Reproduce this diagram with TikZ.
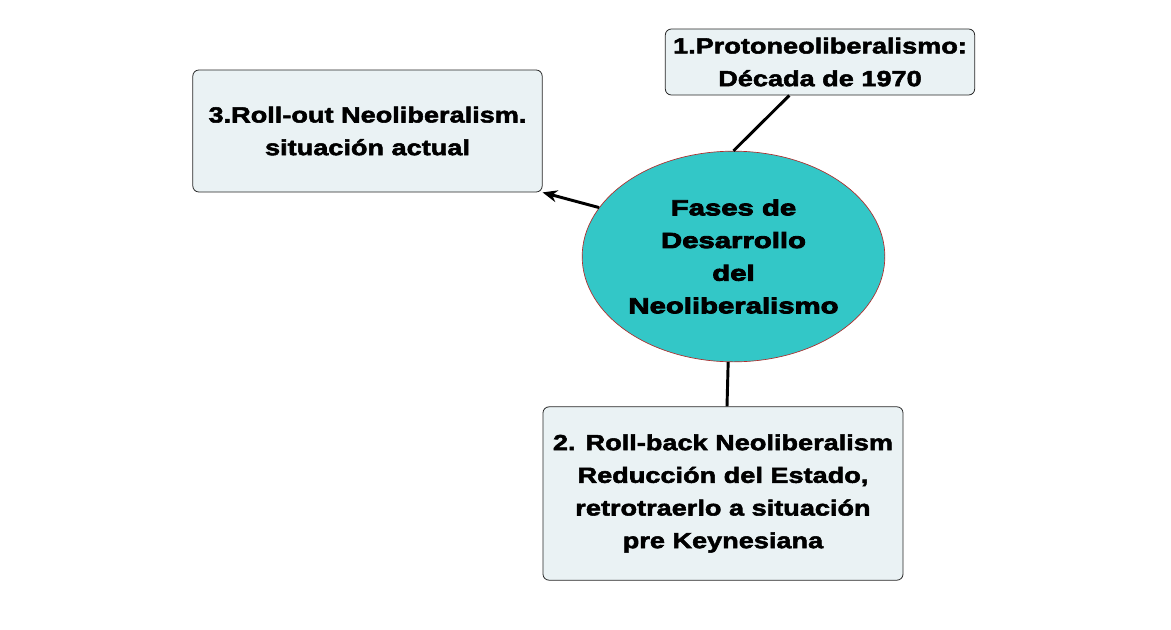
\documentclass[tikz,border=0pt]{standalone}
\usepackage{fontspec}
\setmainfont{Liberation Sans}
\newfontfamily\fasefont[FakeStretch=1.24,FakeBold=2.4]{Liberation Sans}
\newfontfamily\temafont[FakeStretch=1.34,FakeBold=4]{Liberation Sans}
\usetikzlibrary{shapes.geometric,arrows.meta}
\definecolor{boxfill}{RGB}{234,242,244}
\definecolor{ellfill}{RGB}{51,199,199}
\definecolor{ellline}{RGB}{175,45,45}

\begin{document}
\begin{tikzpicture}[x=0.75pt, y=-0.75pt,
    fase/.style={draw=black!85, fill=boxfill, line width=.6pt, rounded corners=4.5pt,
      align=center, inner sep=0pt, font=\fasefont\bfseries\fontsize{16.4}{24.5}\selectfont},
    tema/.style={ellipse, draw=ellline, fill=ellfill, line width=.5pt, align=center,
      inner sep=0pt, minimum width=227pt, minimum height=158pt,
      font=\temafont\bfseries\fontsize{16.4}{24.5}\selectfont},
    enlace/.style={line width=2.2pt}]
  \useasboundingbox (0,0) rectangle (1171,629);
  \node [tema] (tema) at (733.5,256.5) {Fases de\\Desarrollo\\del\\Neoliberalismo};
  \node [fase, minimum width=232pt, minimum height=49.5pt] (fase1) at (820,62) {1.Protoneoliberalismo:\\Década de 1970};
  \node [fase, minimum width=270pt, minimum height=130pt] (fase2) at (723,493.5) {2. Roll-back Neoliberalism\\Reducción del Estado,\\retrotraerlo a situación\\pre Keynesiana};
  \node [fase, minimum width=262pt, minimum height=91.5pt] (fase3) at (367.5,131) {3.Roll-out Neoliberalism.\\situación actual};
  \draw [enlace] ([xshift=-23pt]fase1.south) -- (tema.north);
  \draw [enlace] ([xshift=-4pt]tema.south) -- ([xshift=3pt]fase2.north);
  \draw [enlace, -{Stealth[length=11pt,width=9pt]}] (tema.160) -- (fase3.south east);
\end{tikzpicture}
\end{document}
